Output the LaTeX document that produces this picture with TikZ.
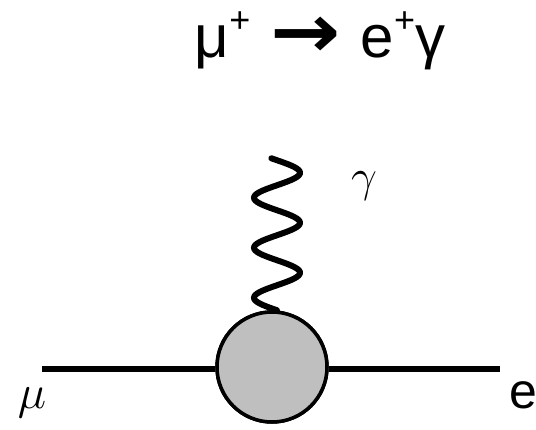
\RequirePackage{fix-cm}
\documentclass[tikz,border=0pt]{standalone}
\usepackage{graphicx}
\usepackage{fontspec}
\setmainfont{Liberation Sans}
\newfontfamily\arrowfont{DejaVu Sans}
\usetikzlibrary{positioning}

\newcommand{\supplus}{\raisebox{0.42em}{\fontsize{36}{36}\selectfont +}}

\begin{document}
\begin{tikzpicture}[
  x=1pt, y=1pt,
  fermion/.style={line width=6pt},
  blob/.style={circle, draw, line width=3.5pt, fill=gray!50, minimum size=110pt, inner sep=0pt},
  photon/.style={line width=6pt, line cap=round},
  lbl/.style={inner sep=0pt, anchor=base}
]
  \useasboundingbox (0,0) rectangle (536,429);
  \node[lbl, font=\fontsize{60}{60}\selectfont] (title) at (320,371)
    {μ\supplus\hspace{20pt}\scalebox{1.4}[1.25]{\arrowfont\bfseries →}\hspace{20pt}e\supplus γ};

  \node[blob] (vertex) at (272,62) {};
  \coordinate (muin) at (42,60);
  \coordinate (eout) at (500,60);

  \draw[fermion] (muin) -- (vertex.west |- muin);
  \draw[fermion] (vertex.east |- eout) -- (eout);
  % photon: sine wave from the top of the blob
  \draw[photon, shift={(vertex.north)}, xshift=5pt]
    plot[domain=0:3.04, samples=120, smooth, variable=\t] ({-23*sin(\t*360)}, {\t*50});
  \node[blob] at (vertex) {};

  \node[lbl, font=\fontsize{48}{48}\selectfont] (mu) at (32,21) {$\mu$};
  \node[lbl, font=\fontsize{50}{50}\selectfont] (e) at (523,21) {e};
  \node[lbl, font=\fontsize{46}{46}\selectfont] (gamma) at (364,237) {$\gamma$};
\end{tikzpicture}
\end{document}
